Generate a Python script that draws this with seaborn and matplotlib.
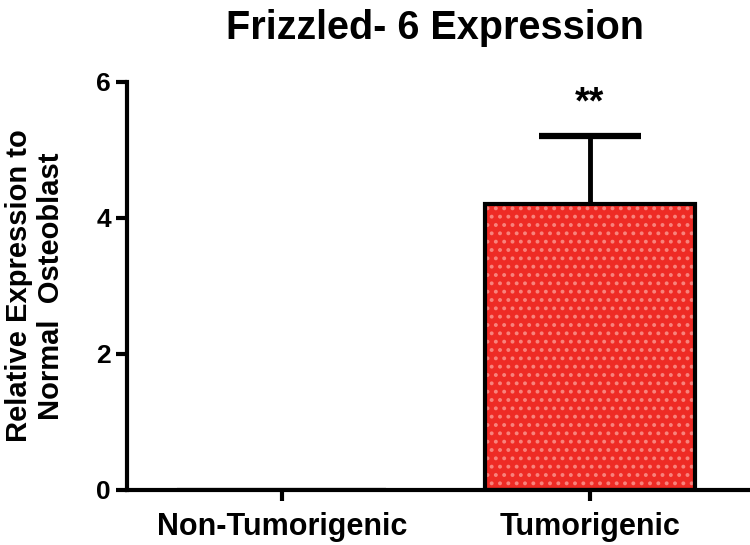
import numpy as np
import pandas as pd
import matplotlib
matplotlib.use("Agg")
import matplotlib.pyplot as plt
import seaborn as sns

# data
groups = ["Non-Tumorigenic", "Tumorigenic"]
expression = [0.0, 4.2]
sem = [0.0, 1.0]
signif = ["", "**"]
y_ticks = [0, 2, 4, 6]

df = pd.DataFrame({"group": groups, "expr": expression})

sns.set_style("ticks")
plt.rcParams["font.family"] = ["Liberation Sans", "DejaVu Sans"]
plt.rcParams["font.weight"] = "bold"
plt.rcParams["text.color"] = "black"
plt.rcParams["axes.labelcolor"] = "black"
plt.rcParams["xtick.color"] = "black"
plt.rcParams["ytick.color"] = "black"
plt.rcParams["axes.edgecolor"] = "black"
plt.rcParams["hatch.linewidth"] = 1.6

fig = plt.figure(figsize=(7.5, 5.45), dpi=100)
ax = fig.add_axes([0.169, 0.101, 0.831, 0.749])

# filled bars with the dotted texture
sns.barplot(data=df, x="group", y="expr", color="#EE2B25", saturation=1,
            width=0.68, edgecolor="#F8837C", linewidth=0, hatch="..", ax=ax)
# black outline on top
sns.barplot(data=df, x="group", y="expr", fill=False, width=0.68,
            edgecolor="black", linewidth=3, ax=ax)

# upper error bars only
x_pos = np.arange(len(groups))
for i in x_pos:
    if sem[i] > 0:
        eb = ax.errorbar(i, expression[i], yerr=[[0], [sem[i]]], fmt="none",
                         ecolor="black", elinewidth=3.5, capsize=37,
                         capthick=4.5, zorder=1)
        eb[1][0].remove()  # drop the lower cap
        ax.text(i, expression[i] + sem[i] + 0.22, signif[i], ha="center",
                va="bottom", fontsize=27, fontweight="bold")

ax.set_xlim(-0.503, 1.52)
ax.set_ylim(0, 6)
ax.set_yticks(y_ticks)
ax.set_xlabel("")
ax.set_ylabel("Relative Expression to\nNormal  Osteoblast", fontsize=21,
              fontweight="bold", labelpad=22, linespacing=1.2)
ax.set_title("Frizzled- 6 Expression", fontsize=28.5, fontweight="bold",
             pad=31, x=0.495)

for side in ["top", "right"]:
    ax.spines[side].set_visible(False)
for side in ["left", "bottom"]:
    ax.spines[side].set_linewidth(3)
ax.tick_params(axis="both", width=3, length=8)
ax.tick_params(axis="y", labelsize=19)
ax.tick_params(axis="x", labelsize=22, pad=8)
for lab in ax.get_xticklabels() + ax.get_yticklabels():
    lab.set_fontweight("bold")

fig.savefig("out.png", dpi=100)
